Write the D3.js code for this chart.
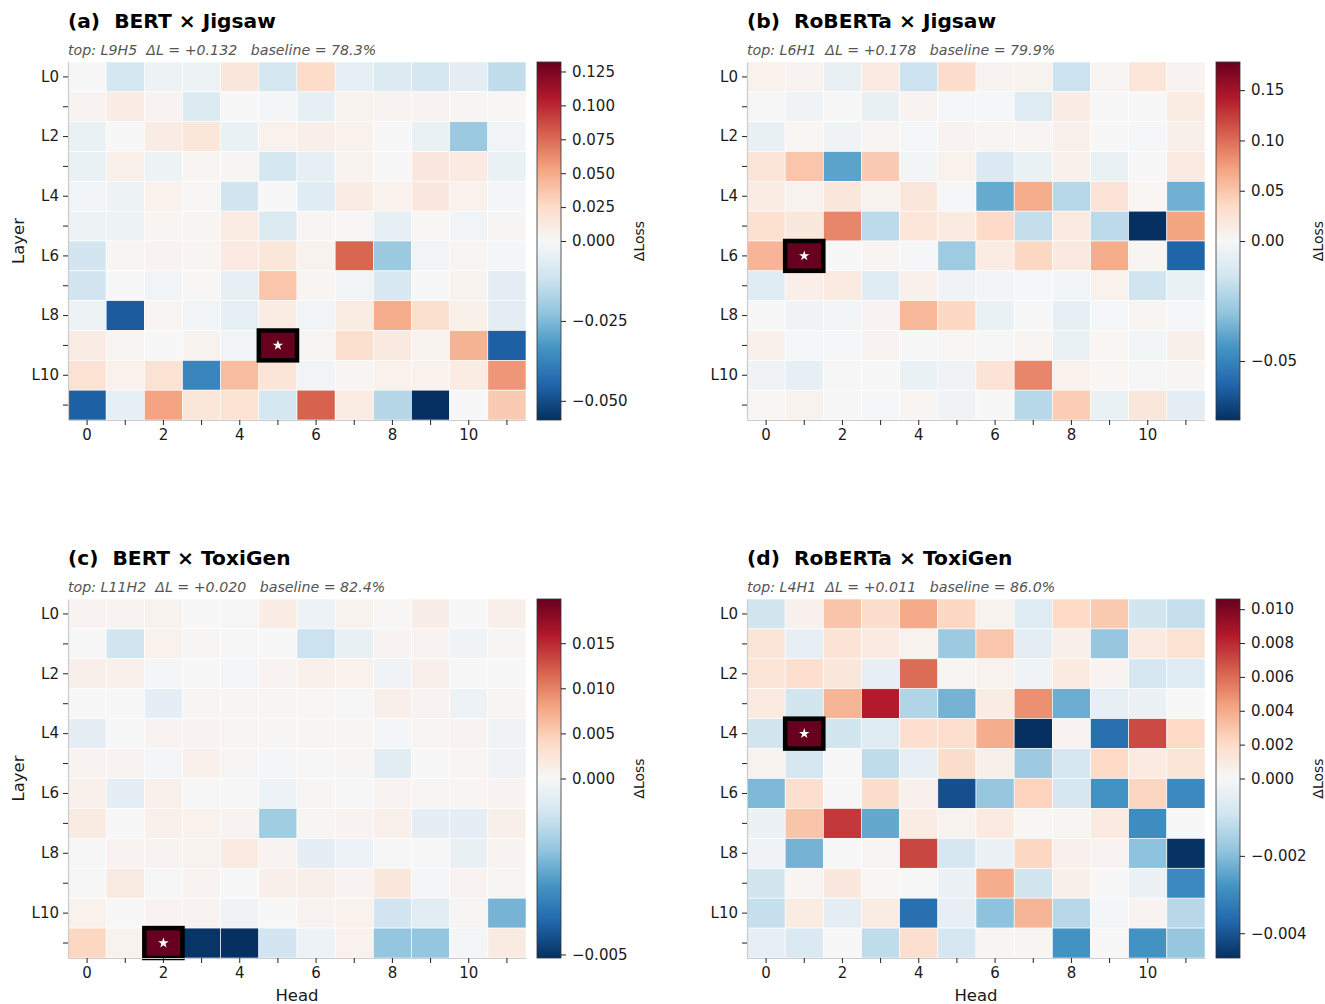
<!DOCTYPE html>
<html>
<head>
<meta charset="utf-8">
<script src="https://cdn.jsdelivr.net/npm/d3@7"></script>
<style>
  body { margin: 0; background: #fff; }
  text { font-family: "DejaVu Sans", sans-serif; }
</style>
</head>
<body>
<svg id="chart" width="1325" height="1004"></svg>
<script>
// ---------------- data ----------------
const heads = d3.range(12);
const layers = d3.range(12).map(i => "L" + i);
const headTickLabels = ["0", "", "2", "", "4", "", "6", "", "8", "", "10", ""];
const layerTickLabels = ["L0", "", "L2", "", "L4", "", "L6", "", "L8", "", "L10", ""];
const panelTitles = ["(a)  BERT × Jigsaw", "(b)  RoBERTa × Jigsaw", "(c)  BERT × ToxiGen", "(d)  RoBERTa × ToxiGen"];
const baselines = ["78.3%", "79.9%", "82.4%", "86.0%"];
const cbTicksA = [-0.050, -0.025, 0.000, 0.025, 0.050, 0.075, 0.100, 0.125];
const cbTicksB = [-0.05, 0.00, 0.05, 0.10, 0.15];
const cbTicksC = [-0.005, 0.000, 0.005, 0.010, 0.015];
const cbTicksD = [-0.004, -0.002, 0.000, 0.002, 0.004, 0.006, 0.008, 0.010];
const cbFormats = [".3f", ".2f", ".3f", ".3f"];
const rdbuR = ["#053061", "#2166ac", "#4393c3", "#92c5de", "#d1e5f0", "#f7f7f7",
               "#fddbc7", "#f4a582", "#d6604d", "#b2182b", "#67001f"];

// rows = layers L0..L11, columns = heads 0..11
const bertJigsaw = [
  [0.000, -0.010, -0.003, -0.003, 0.015, -0.010, 0.025, -0.005, -0.008, -0.010, -0.006, -0.014],
  [0.004, 0.010, 0.004, -0.008, 0.000, -0.001, -0.005, 0.005, 0.004, 0.004, 0.002, 0.001],
  [-0.004, 0.000, 0.010, 0.016, -0.004, 0.006, 0.008, 0.006, 0.000, -0.004, -0.021, -0.002],
  [-0.004, 0.007, -0.003, 0.003, 0.002, -0.010, -0.005, 0.005, 0.000, 0.014, 0.012, -0.004],
  [-0.002, -0.003, 0.006, 0.001, -0.011, 0.000, -0.007, 0.010, 0.006, 0.014, 0.006, -0.001],
  [-0.003, -0.003, 0.003, 0.003, 0.011, -0.008, 0.003, 0.001, -0.005, 0.001, -0.002, 0.002],
  [-0.011, 0.003, 0.004, 0.003, 0.012, 0.016, 0.005, 0.077, -0.021, -0.002, 0.003, -0.001],
  [-0.011, 0.000, -0.002, 0.001, -0.005, 0.037, 0.003, -0.002, -0.009, 0.000, 0.005, -0.006],
  [-0.003, -0.047, 0.003, -0.002, -0.005, 0.011, -0.002, 0.011, 0.049, 0.022, 0.007, -0.006],
  [0.010, 0.003, 0.000, 0.005, -0.002, 0.132, 0.003, 0.022, 0.013, 0.005, 0.046, -0.046],
  [0.020, 0.006, 0.019, -0.037, 0.041, 0.017, -0.002, 0.003, 0.006, 0.006, 0.011, 0.058],
  [-0.046, -0.005, 0.053, 0.016, 0.019, -0.010, 0.078, 0.011, -0.016, -0.056, 0.000, 0.034]
];
const robertaJigsaw = [
  [0.008, 0.005, -0.006, 0.016, -0.016, 0.033, 0.005, 0.006, -0.016, 0.004, 0.022, 0.005],
  [0.001, -0.003, 0.000, -0.006, 0.005, -0.001, -0.001, -0.010, 0.014, 0.000, 0.000, 0.015],
  [-0.006, 0.003, -0.003, 0.004, -0.001, 0.005, 0.004, 0.004, 0.009, 0.000, -0.001, 0.010],
  [0.023, 0.050, -0.040, 0.046, -0.002, 0.008, -0.011, -0.005, 0.009, -0.005, 0.000, 0.016],
  [0.015, 0.006, 0.021, 0.006, 0.021, -0.001, -0.038, 0.066, -0.021, 0.024, 0.003, -0.036],
  [0.028, 0.019, 0.087, -0.020, 0.022, 0.017, 0.035, -0.018, 0.017, -0.020, -0.0746, 0.071],
  [0.061, 0.178, 0.000, 0.004, -0.001, -0.027, 0.015, 0.038, 0.018, 0.066, 0.004, -0.060],
  [-0.009, 0.011, 0.016, -0.009, 0.009, -0.003, -0.002, -0.001, -0.002, 0.008, -0.015, -0.005],
  [0.000, -0.003, -0.002, 0.005, 0.059, 0.037, -0.005, 0.000, -0.007, -0.001, 0.004, -0.001],
  [0.009, -0.001, -0.001, 0.005, 0.000, 0.003, 0.001, 0.004, -0.005, 0.003, -0.002, 0.010],
  [-0.003, -0.007, 0.001, 0.000, -0.005, -0.003, 0.025, 0.087, 0.008, 0.003, 0.001, 0.002],
  [0.003, 0.006, 0.000, -0.001, 0.004, -0.003, 0.000, -0.021, 0.045, -0.005, 0.020, -0.008]
];
const bertToxigen = [
  [0.0006, 0.0006, 0.0007, 0.0000, 0.0001, 0.0014, -0.0003, 0.0007, 0.0002, 0.0013, 0.0000, 0.0011],
  [0.0001, -0.0010, 0.0009, 0.0003, 0.0001, 0.0000, -0.0011, -0.0004, 0.0005, 0.0005, -0.0002, 0.0003],
  [0.0011, 0.0010, -0.0001, 0.0000, -0.0001, 0.0005, 0.0010, 0.0009, -0.0002, 0.0011, 0.0000, 0.0000],
  [0.0000, 0.0000, -0.0005, 0.0003, 0.0003, 0.0003, 0.0002, 0.0001, 0.0011, 0.0005, -0.0003, 0.0004],
  [-0.0005, 0.0000, 0.0006, 0.0005, 0.0004, 0.0003, 0.0003, 0.0003, -0.0001, 0.0004, 0.0005, -0.0002],
  [0.0005, 0.0005, -0.0001, 0.0010, 0.0003, -0.0001, 0.0001, 0.0003, -0.0006, 0.0000, 0.0004, -0.0002],
  [0.0010, -0.0005, 0.0010, 0.0001, 0.0001, -0.0003, 0.0003, 0.0001, 0.0005, 0.0003, 0.0004, 0.0006],
  [0.0017, 0.0000, 0.0010, 0.0009, 0.0005, -0.0018, 0.0003, 0.0005, 0.0010, -0.0005, -0.0005, 0.0011],
  [0.0001, 0.0006, 0.0006, 0.0007, 0.0018, 0.0006, -0.0005, -0.0003, 0.0001, 0.0000, -0.0004, 0.0006],
  [0.0001, 0.0017, 0.0001, 0.0006, 0.0000, 0.0011, 0.0011, 0.0006, 0.0022, -0.0001, 0.0005, 0.0003],
  [0.0009, 0.0000, 0.0006, 0.0006, -0.0002, 0.0000, 0.0006, 0.0009, -0.0010, -0.0006, 0.0003, -0.0024],
  [0.0043, 0.0007, 0.0199, -0.0050, -0.0051, -0.0010, -0.0003, 0.0008, -0.0020, -0.0020, -0.0001, 0.0017]
];
const robertaToxigen = [
  [-0.0009, 0.0005, 0.0030, 0.0019, 0.0040, 0.0022, 0.0004, -0.0006, 0.0021, 0.0028, -0.0009, -0.0011],
  [0.0014, -0.0004, 0.0015, 0.0010, 0.0004, -0.0017, 0.0029, -0.0005, 0.0006, -0.0018, 0.0010, 0.0016],
  [0.0014, 0.0018, 0.0012, -0.0004, 0.0060, 0.0002, 0.0004, -0.0002, 0.0010, 0.0003, -0.0008, -0.0006],
  [0.0010, -0.0009, 0.0036, 0.0084, -0.0014, -0.0022, 0.0008, 0.0049, -0.0023, -0.0004, -0.0003, 0.0000],
  [-0.0009, 0.0106, -0.0009, -0.0006, 0.0018, 0.0018, 0.0039, -0.00464, 0.0003, -0.0035, 0.0070, 0.0021],
  [0.0004, -0.0008, 0.0000, -0.0012, -0.0004, 0.0019, 0.0006, -0.0017, -0.0008, 0.0021, 0.0010, 0.0014],
  [-0.0021, 0.0018, 0.0000, 0.0019, 0.0005, -0.0041, -0.0018, 0.0024, -0.0008, -0.0028, 0.0023, -0.0030],
  [-0.0003, 0.0030, 0.0075, -0.0024, 0.0009, 0.0004, 0.0010, 0.0001, 0.0002, 0.0010, -0.0029, 0.0000],
  [-0.0002, -0.0022, 0.0000, 0.0002, 0.0071, -0.0008, -0.0003, 0.0022, 0.0005, 0.0003, -0.0019, -0.0046],
  [-0.0009, 0.0002, 0.0011, 0.0001, 0.0000, -0.0003, 0.0039, -0.0009, 0.0006, 0.0000, -0.0003, -0.0030],
  [-0.0011, 0.0009, -0.0005, 0.0009, -0.0035, -0.0004, -0.0019, 0.0036, -0.0013, -0.0001, 0.0003, -0.0013],
  [-0.0004, -0.0007, 0.0000, -0.0012, 0.0018, -0.0008, 0.0002, 0.0002, -0.0028, 0.0000, -0.0028, -0.0018]
];

// ---------------- layout ----------------
const layout = [
  { x0: 68,  x1: 526,  y0: 62,  y1: 420, cb0: 537,  cb1: 561,  yLabel: true,  xLabel: false },
  { x0: 747, x1: 1205, y0: 62,  y1: 420, cb0: 1216, cb1: 1240, yLabel: false, xLabel: false },
  { x0: 68,  x1: 526,  y0: 599, y1: 958, cb0: 537,  cb1: 561,  yLabel: true,  xLabel: true },
  { x0: 747, x1: 1205, y0: 599, y1: 958, cb0: 1216, cb1: 1240, yLabel: false, xLabel: true }
];
const datasets = [bertJigsaw, robertaJigsaw, bertToxigen, robertaToxigen];
const cbTicks = [cbTicksA, cbTicksB, cbTicksC, cbTicksD];

const svg = d3.select("#chart");
const defs = svg.append("defs");
const grad = defs.append("linearGradient").attr("id", "rdbu")
  .attr("x1", 0).attr("y1", 1).attr("x2", 0).attr("y2", 0);
rdbuR.forEach((c, i) => grad.append("stop").attr("offset", i / 10).attr("stop-color", c));

const cmap = d3.scaleLinear().domain(d3.range(11).map(i => i / 10)).range(rdbuR)
  .interpolate(d3.interpolateRgb).clamp(true);

datasets.forEach((data, p) => {
  const L = layout[p];
  const cells = [];
  data.forEach((row, li) => row.forEach((v, h) => cells.push({ l: layers[li], li, h, v })));
  const vmin = d3.min(cells, d => d.v), vmax = d3.max(cells, d => d.v);
  const top = cells.find(d => d.v === vmax);
  const norm = d3.scaleLinear().domain([vmin, 0, vmax]).range([0, 0.5, 1]).clamp(true);

  const x = d3.scaleBand().domain(heads).range([L.x0, L.x1]);
  const y = d3.scaleBand().domain(layers).range([L.y0, L.y1]);

  const g = svg.append("g");
  // title
  g.append("text").attr("x", L.x0).attr("y", L.y0 - 34)
    .attr("font-size", 20.2).attr("font-weight", "bold").attr("fill", "#000")
    .style("white-space", "pre").text(panelTitles[p]);
  g.append("text").attr("x", L.x0).attr("y", L.y0 - 7)
    .attr("font-size", 14.2).attr("font-style", "italic").attr("fill", "#555")
    .style("white-space", "pre")
    .text(`top: ${top.l}H${top.h}  ΔL = +${top.v.toFixed(3)}   baseline = ${baselines[p]}`);

  // cells
  g.append("g").selectAll("rect").data(cells).join("rect")
    .attr("x", d => x(d.h)).attr("y", d => y(d.l))
    .attr("width", x.bandwidth()).attr("height", y.bandwidth())
    .attr("fill", d => cmap(norm(d.v)))
    .attr("stroke", "#ffffff").attr("stroke-width", 0.6);

  // highlight top head
  g.append("rect").attr("x", x(top.h)).attr("y", y(top.l))
    .attr("width", x.bandwidth()).attr("height", y.bandwidth())
    .attr("fill", "none").attr("stroke", "#000").attr("stroke-width", 4.5);
  g.append("path").attr("d", d3.symbol(d3.symbolStar, 34)())
    .attr("transform", `translate(${x(top.h) + x.bandwidth() / 2},${y(top.l) + y.bandwidth() / 2})`)
    .attr("fill", "#fff");

  // axes
  const xa = g.append("g").attr("transform", `translate(0,${L.y1})`)
    .call(d3.axisBottom(x).tickSize(5).tickSizeOuter(0).tickPadding(4)
      .tickFormat((d, i) => headTickLabels[i]));
  const ya = g.append("g").attr("transform", `translate(${L.x0},0)`)
    .call(d3.axisLeft(y).tickSize(5).tickSizeOuter(0).tickPadding(4)
      .tickFormat((d, i) => layerTickLabels[i]));
  [xa, ya].forEach(a => {
    a.select(".domain").attr("stroke", "#cccccc").attr("stroke-width", 1.2);
    a.selectAll(".tick line").attr("stroke", "#222").attr("stroke-width", 1);
    a.selectAll(".tick text").attr("font-size", 15).attr("fill", "#1a1a1a")
      .attr("font-family", "DejaVu Sans, sans-serif");
  });

  if (L.yLabel) {
    g.append("text").attr("transform", `translate(18,${(L.y0 + L.y1) / 2}) rotate(-90)`)
      .attr("text-anchor", "middle").attr("dy", "0.35em").attr("font-size", 16.5)
      .attr("fill", "#1a1a1a").text("Layer");
  }
  if (L.xLabel) {
    g.append("text").attr("x", (L.x0 + L.x1) / 2).attr("y", 1001)
      .attr("text-anchor", "middle").attr("font-size", 16.5).attr("fill", "#1a1a1a").text("Head");
  }

  // colorbar
  const cbScale = d3.scaleLinear().domain([vmin, 0, vmax]).range([L.y1, (L.y0 + L.y1) / 2, L.y0]);
  g.append("rect").attr("x", L.cb0).attr("y", L.y0)
    .attr("width", L.cb1 - L.cb0).attr("height", L.y1 - L.y0)
    .attr("fill", "url(#rdbu)").attr("stroke", "#333").attr("stroke-width", 0.8);
  const ca = g.append("g").attr("transform", `translate(${L.cb1},0)`)
    .call(d3.axisRight(cbScale).tickValues(cbTicks[p]).tickSize(5).tickPadding(6)
      .tickFormat(d3.format(cbFormats[p])));
  ca.select(".domain").remove();
  ca.selectAll(".tick line").attr("stroke", "#222").attr("stroke-width", 1);
  ca.selectAll(".tick text").attr("font-size", 15).attr("fill", "#1a1a1a")
    .attr("font-family", "DejaVu Sans, sans-serif");
  g.append("text").attr("transform", `translate(${L.cb1 + 78},${(L.y0 + L.y1) / 2}) rotate(-90)`)
    .attr("text-anchor", "middle").attr("dy", "0.35em").attr("font-size", 14)
    .attr("fill", "#1a1a1a").text("ΔLoss");
});
</script>
</body>
</html>
